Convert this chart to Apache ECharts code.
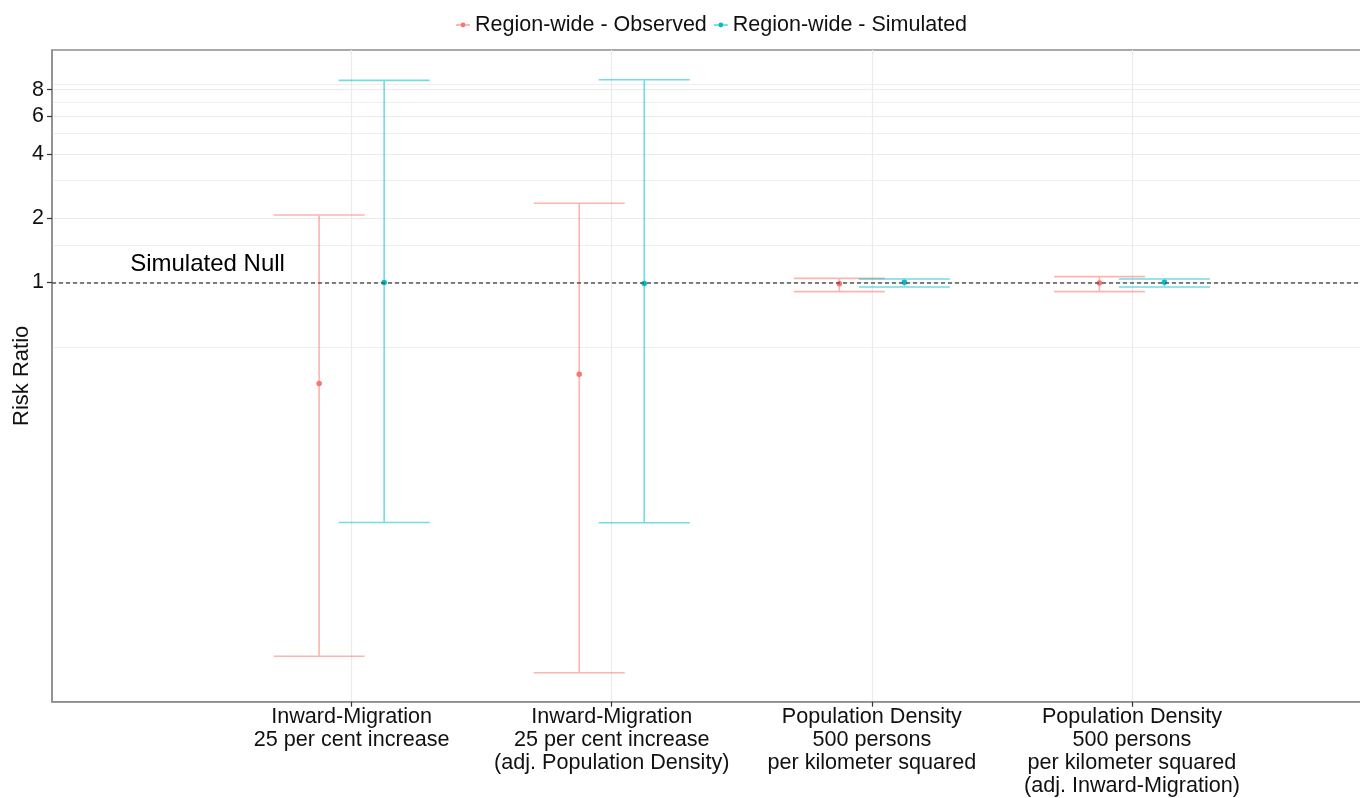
<!DOCTYPE html>
<html>
<head>
<meta charset="utf-8">
<script src="https://cdn.jsdelivr.net/npm/echarts/dist/echarts.min.js"></script>
<style>
html,body{margin:0;padding:0;background:#ffffff;}
#chart{width:1360px;height:798px;}
</style>
</head>
<body>
<div id="chart"></div>
<script>
// ---------- data ----------
const categories = [
  'Inward-Migration\n25 per cent increase',
  'Inward-Migration\n25 per cent increase\n(adj. Population Density)',
  'Population Density\n500 persons\nper kilometer squared',
  'Population Density\n500 persons\nper kilometer squared\n(adj. Inward-Migration)'
];
const seriesNames = ['Region-wide - Observed', 'Region-wide - Simulated'];
const observedRR    = [0.337, 0.372, 0.987, 0.995];
const observedLower = [0.0178, 0.0149, 0.906, 0.906];
const observedUpper = [2.07, 2.35, 1.046, 1.065];
const simulatedRR    = [1.0, 0.99, 1.002, 1.002];
const simulatedLower = [0.0753, 0.0750, 0.953, 0.953];
const simulatedUpper = [8.84, 8.90, 1.038, 1.038];
const yTickLabels = [1, 2, 4, 6, 8];
const yMinorBreaks = [0.5, 1.5, 3, 5, 7, 8.5];
const nullValue = 1;
const nullLabel = 'Simulated Null';
const nullLabelAt = [0.446, 1.22];
const yAxisTitle = 'Risk Ratio';

// ---------- styling ----------
const FONT = '"Liberation Sans", Arial, Helvetica, sans-serif';
const colors = ['#F8766D', '#00BFC4'];
const barColors = ['rgba(248,118,109,0.55)', 'rgba(0,191,196,0.55)'];
const dodge = 0.125;
const capWidth = 0.35;
const lg = Math.log2;

function barData(lo, hi, shift) {
  return categories.map((c, i) => [i + 1 + shift, lg(lo[i]), lg(hi[i])]);
}
function pointData(rr, shift) {
  return categories.map((c, i) => [i + 1 + shift, lg(rr[i])]);
}
function errRender(stroke) {
  return function (params, api) {
    const x = api.value(0);
    const a = api.coord([x, api.value(1)]);
    const b = api.coord([x, api.value(2)]);
    const hw = api.size([capWidth, 0])[0] / 2;
    const st = { stroke: stroke, lineWidth: 1.6, fill: null };
    return {
      type: 'group',
      children: [
        { type: 'line', shape: { x1: a[0], y1: a[1] - 0.8, x2: b[0], y2: b[1] + 0.8 }, style: st },
        { type: 'line', shape: { x1: a[0] - hw, y1: a[1], x2: a[0] + hw, y2: a[1] }, style: st },
        { type: 'line', shape: { x1: b[0] - hw, y1: b[1], x2: b[0] + hw, y2: b[1] }, style: st }
      ]
    };
  };
}

const shifts = [-dodge, dodge];
const lows = [observedLower, simulatedLower];
const highs = [observedUpper, simulatedUpper];
const rrs = [observedRR, simulatedRR];

const series = [];
seriesNames.forEach((name, k) => {
  series.push({
    name: name,
    type: 'custom',
    renderItem: errRender(barColors[k]),
    itemStyle: { color: colors[k] },
    encode: { x: 0, y: [1, 2] },
    data: barData(lows[k], highs[k], shifts[k]),
    z: 2,
    silent: true
  });
});
seriesNames.forEach((name, k) => {
  const s = {
    name: name,
    type: 'scatter',
    symbol: 'circle',
    symbolSize: 5.5,
    itemStyle: { color: colors[k], opacity: 1 },
    data: pointData(rrs[k], shifts[k]),
    z: 3,
    silent: true
  };
  if (k === 1) {
    s.markLine = {
      silent: true,
      symbol: ['none', 'none'],
      label: { show: false },
      lineStyle: { type: [4, 3], color: '#555555', width: 1.5 },
      data: [{ yAxis: lg(nullValue) }],
      z: 5
    };
  }
  series.push(s);
});
series.push({
  name: 'annotation',
  type: 'custom',
  silent: true,
  z: 6,
  data: [[nullLabelAt[0], lg(nullLabelAt[1])]],
  renderItem: function (params, api) {
    const p = api.coord([api.value(0), api.value(1)]);
    return {
      type: 'text',
      x: p[0], y: p[1],
      style: {
        text: nullLabel,
        fontSize: 24,
        fontFamily: FONT,
        fill: '#000000',
        align: 'center', verticalAlign: 'middle',
        textAlign: 'center', textVerticalAlign: 'middle'
      }
    };
  }
});

const yMin = -6.519, yMax = 3.616;

const option = {
  animation: false,
  backgroundColor: '#ffffff',
  grid: {
    left: 52, right: -5, top: 50, bottom: 96.3,
    show: true, borderColor: '#8f8f8f', borderWidth: 1.6, backgroundColor: 'transparent',
    containLabel: false, outerBoundsMode: 'none'
  },
  legend: {
    left: 456, top: 14, padding: 0,
    itemWidth: 14, itemHeight: 6, itemGap: 7,
    selectedMode: false,
    textStyle: { fontFamily: FONT, fontSize: 21.5, color: '#111111' },
    data: seriesNames.map(n => ({ name: n, icon: 'path://M0,2.6L14,2.6L14,3.4L0,3.4Z M7,0.6 A2.4,2.4 0 1,1 6.99,0.6Z' }))
  },
  xAxis: [{
    type: 'value',
    min: -0.152, max: 4.896,
    axisLine: { show: true, onZero: false, lineStyle: { color: '#8f8f8f', width: 1.6 } },
    axisTick: { show: true, customValues: [1, 2, 3, 4], length: 5, lineStyle: { color: '#333333', width: 1.2 } },
    axisLabel: {
      show: true, customValues: [1, 2, 3, 4],
      formatter: v => categories[Math.round(v) - 1] || '',
      fontFamily: FONT, fontSize: 21.6, lineHeight: 23, color: '#111111', margin: 4,
      align: 'center', verticalAlign: 'top'
    },
    splitLine: { show: true, lineStyle: { color: '#ebebeb', width: 1.2 } }
  }],
  yAxis: [{
    type: 'value',
    min: yMin, max: yMax,
    name: yAxisTitle,
    nameLocation: 'middle',
    nameGap: 19,
    nameRotate: 90,
    nameMoveOverlap: false,
    nameTextStyle: { fontFamily: FONT, fontSize: 22, color: '#111111' },
    axisLine: { show: true, onZero: false, lineStyle: { color: '#8f8f8f', width: 1.6 } },
    axisTick: { show: true, customValues: yTickLabels.map(lg), length: 5, lineStyle: { color: '#333333', width: 1.2 } },
    axisLabel: {
      show: true, customValues: yTickLabels.map(lg),
      formatter: v => String(Math.round(Math.pow(2, v))),
      fontFamily: FONT, fontSize: 21.5, color: '#111111', margin: 8
    },
    splitLine: { show: true, lineStyle: { color: '#ebebeb', width: 1.2 } }
  }, {
    type: 'value',
    min: yMin, max: yMax,
    axisLine: { show: false },
    axisTick: { show: false, customValues: yMinorBreaks.map(lg) },
    axisLabel: { show: false, customValues: yMinorBreaks.map(lg) },
    splitLine: { show: true, lineStyle: { color: '#efefef', width: 1.1 } }
  }],
  series: series
};

const chart = echarts.init(document.getElementById('chart'), null, { renderer: 'canvas' });
chart.setOption(option);
</script>
</body>
</html>
